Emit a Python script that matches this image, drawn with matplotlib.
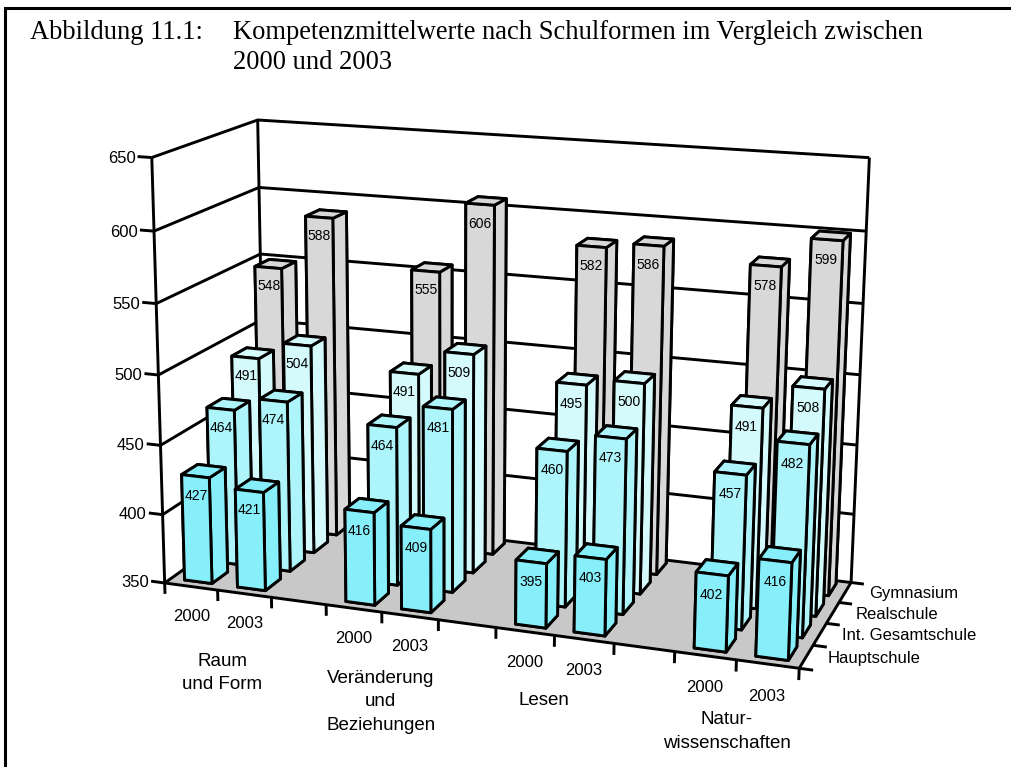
import numpy as np
import matplotlib
matplotlib.use('Agg')
import matplotlib.pyplot as plt
from matplotlib.lines import Line2D
from mpl_toolkits.mplot3d.art3d import Poly3DCollection, Line3DCollection

W, H = 1011, 767

slots = [0, 1, 3, 4, 6, 7, 9, 10]
years = ['2000', '2003', '2000', '2003', '2000', '2003', '2000', '2003']
schools = ['Hauptschule', 'Int. Gesamtschule', 'Realschule', 'Gymnasium']
hauptschule = [427, 421, 416, 409, 395, 403, 402, 416]
gesamtschule = [464, 474, 464, 481, 460, 473, 457, 482]
realschule = [491, 504, 491, 509, 495, 500, 491, 508]
gymnasium = [548, 588, 555, 606, 582, 586, 578, 599]
colors = ['#86EFF9', '#ADF5FA', '#D4FAFC', '#D8D8D8']
z_ticks = [350, 400, 450, 500, 550, 600, 650]
groups = ['Raum\nund Form', 'Veränderung\nund\nBeziehungen', 'Lesen', 'Natur-\nwissenschaften']
group_x = [1.05, 3.97, 6.83, 9.88]
group_drop = [61, 65, 47, 50]
series = [hauptschule, gesamtschule, realschule, gymnasium]

X1, Y1, Z0, Z1 = 11, 4, 350, 650

plt.rcParams['font.family'] = ['Liberation Sans', 'DejaVu Sans']
fig = plt.figure(figsize=(W / 100, H / 100), dpi=100)
ax = fig.add_axes([0, 0, 1, 1], projection='3d', computed_zorder=False)
ax.set_axis_off()
ax.patch.set_visible(False)
ax.apply_aspect()

# camera fitted to points of the box in the picture: (x, y, z) -> pixel
anchors = [
    (0, 0, 350, 166, 583), (0, 0, 500, 158, 375), (0, 0, 650, 150, 157),
    (0, 4, 350, 262, 510), (0, 4, 550, 262, 255), (0, 4, 600, 260, 188), (0, 4, 650, 258, 120),
    (3, 0, 350, 327, 605), (6, 0, 350, 497, 628), (11, 0, 350, 798, 668),
    (11, 4, 350, 852, 583), (11, 4, 500, 860, 375), (11, 4, 600, 866, 231), (11, 4, 650, 869, 157),
]
inv = ax.transData.inverted()
A, b = [], []
for x, y, z, px, py in anchors:
    u, v = inv.transform((px, H - py))
    A.append([x, y, z, 1, 0, 0, 0, 0, -u * x, -u * y, -u * z])
    A.append([0, 0, 0, 0, x, y, z, 1, -v * x, -v * y, -v * z])
    b += [u, v]
p = np.linalg.lstsq(np.array(A), np.array(b), rcond=None)[0]
w_row = np.array([p[8], p[9], p[10], 1.0])
w_mid = w_row @ np.array([5.5, 2, 500, 1])
# third row is only used to sort the faces of a bar
depth_row = np.array([-0.1 / X1, 1 / Y1, -0.2 / (Z1 - Z0), 0]) * w_mid
M = np.array([p[0:4], p[4:8], depth_row, w_row])
ax.get_proj = lambda: M


def label(x, y, z, s, **kw):
    q = M @ np.array([x, y, z, 1.0])
    ax.text2D(q[0] / q[3], q[1] / q[3], s, transform=ax.transData, va='center', **kw)


LW = 2.1

floor = Poly3DCollection([[(0, 0, Z0), (X1, 0, Z0), (X1, Y1, Z0), (0, Y1, Z0)]],
                         facecolor='#C8C8C8', edgecolor='none', zorder=0.5)
ax.add_collection3d(floor)

segs = []
for z in z_ticks:
    segs.append([(0, 0, z), (0, Y1, z), (X1, Y1, z)])
    segs.append([(-0.26, 0, z), (0, 0, z)])
    label(-0.3, 0, z - 1.5, str(z), ha='right', fontsize=12, zorder=1)
segs.append([(0, 0, Z0), (0, 0, Z1)])
segs.append([(0, Y1, Z0), (0, Y1, Z1)])
segs.append([(X1, Y1, Z0), (X1, Y1, Z1)])
segs.append([(0, 0, Z0), (X1, 0, Z0), (X1, Y1, Z0)])
for k in range(X1 + 1):
    segs.append([(k, 0, Z0), (k, 0, Z0 - 8)])
for i in range(Y1 + 1):
    segs.append([(X1, i, Z0), (X1 + 0.22, i, Z0)])
ax.add_collection3d(Line3DCollection(segs, colors='black', linewidths=LW, zorder=1), autolim=False)

for s, yr in zip(slots, years):
    label(s + 0.5, 0, Z0 - 22, yr, ha='center', fontsize=12, zorder=1)
for gx, drop, name in zip(group_x, group_drop, groups):
    label(gx, 0, Z0 - drop, name, ha='center', fontsize=13.5, linespacing=1.48, zorder=1)
for i, name in enumerate(schools):
    label(X1 + 0.4 - 0.02 * (3 - i), i + 0.5, Z0 + 1, name, ha='left', fontsize=12, zorder=1)

order = 2
for row in range(3, -1, -1):
    for s, val in zip(slots, series[row]):
        ax.bar3d(s + 0.25, row + 0.25, Z0, 0.52, 0.6, val - Z0, color=colors[row],
                 edgecolor='black', linewidth=LW, shade=False, zorder=order)
        label(s + 0.51, row + 0.25, val - 14, str(val), ha='center', fontsize=10, zorder=order + 0.5)
        order += 1

fig.add_artist(Line2D([5 / W, 5 / W, 1], [0, 1 - 8 / H, 1 - 8 / H], color='black', lw=2.2,
                      solid_joinstyle='miter'))
serif = ['Liberation Serif', 'DejaVu Serif']
fig.text(30 / W, 1 - 39 / H, 'Abbildung 11.1:', family=serif, fontsize=19.1, va='baseline')
fig.text(233 / W, 1 - 39 / H, 'Kompetenzmittelwerte nach Schulformen im Vergleich zwischen',
         family=serif, fontsize=19.1, va='baseline')
fig.text(233 / W, 1 - 69 / H, '2000 und 2003', family=serif, fontsize=19.1, va='baseline')

fig.savefig('out.png', dpi=100)
